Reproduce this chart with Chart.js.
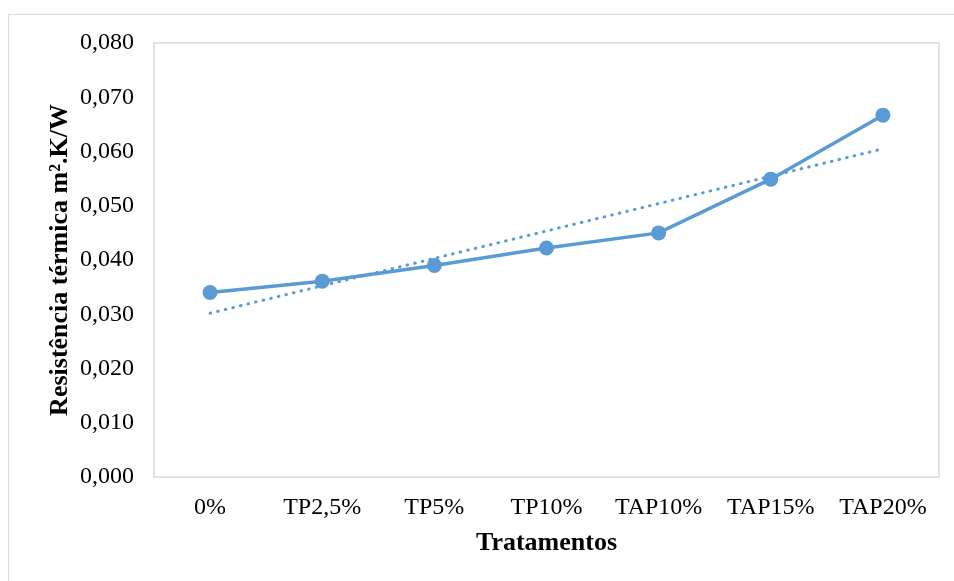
<!DOCTYPE html>
<html>
<head>
<meta charset="utf-8">
<script src="https://cdn.jsdelivr.net/npm/chart.js@4/dist/chart.umd.min.js"></script>
<style>
  html, body { margin: 0; padding: 0; background: #ffffff; }
  #wrap { position: relative; width: 954px; height: 581px; }
</style>
</head>
<body>
<div id="wrap"><canvas id="c" width="954" height="581"></canvas></div>
<script>
const categories = ['0%', 'TP2,5%', 'TP5%', 'TP10%', 'TAP10%', 'TAP15%', 'TAP20%'];
const resistencia = [0.0340, 0.0361, 0.0390, 0.0422, 0.0450, 0.0549, 0.0667];
// linear trendline read at its two ends (first and last category)
const tendencia = [0.0302, null, null, null, null, null, 0.0605];
const yTicks = ['0,000', '0,010', '0,020', '0,030', '0,040', '0,050', '0,060', '0,070', '0,080'];
const yTitle = 'Resistência térmica m².K/W';
const xTitle = 'Tratamentos';

const BLUE = '#5B9BD5';
const GREY = '#d9d9d9';
const SERIF = "'Liberation Serif', 'Times New Roman', serif";

const frames = {
  id: 'frames',
  beforeDraw(chart) {
    const ctx = chart.ctx;
    ctx.save();
    ctx.fillStyle = '#ffffff';
    ctx.fillRect(0, 0, chart.width, chart.height);
    ctx.strokeStyle = GREY;
    ctx.lineWidth = 1;
    ctx.strokeRect(8.5, 14.5, 980, 620);
    const a = chart.chartArea;
    ctx.lineWidth = 1.5;
    ctx.strokeRect(a.left, a.top, a.right - a.left, a.bottom - a.top);
    ctx.restore();
  }
};

new Chart(document.getElementById('c'), {
  type: 'line',
  data: {
    labels: categories,
    datasets: [
      {
        label: 'Linear',
        data: tendencia,
        spanGaps: true,
        borderColor: BLUE,
        borderWidth: 3,
        borderCapStyle: 'round',
        borderDash: [0.6, 7.2],
        pointRadius: 0,
        fill: false,
        order: 0
      },
      {
        label: 'Resistência',
        data: resistencia,
        borderColor: BLUE,
        backgroundColor: BLUE,
        borderWidth: 3.5,
        pointRadius: 7.5,
        pointBackgroundColor: BLUE,
        pointBorderColor: BLUE,
        pointBorderWidth: 0,
        tension: 0,
        fill: false,
        order: 1
      }
    ]
  },
  options: {
    responsive: false,
    animation: false,
    devicePixelRatio: 1,
    layout: { padding: { top: 43, right: 15, left: 45, bottom: 22 } },
    plugins: { legend: { display: false }, tooltip: { enabled: false } },
    scales: {
      x: {
        offset: true,
        grid: { display: false, drawTicks: false },
        border: { display: false },
        ticks: {
          color: '#000000',
          font: { family: SERIF, size: 24 },
          padding: 16,
          maxRotation: 0,
          autoSkip: false
        },
        title: {
          display: true,
          text: xTitle,
          color: '#000000',
          font: { family: SERIF, size: 26, weight: 'bold' },
          padding: 0
        },
        afterFit(s) { s.height = 581 - 22 - 477; }
      },
      y: {
        min: 0,
        max: 0.08,
        grid: { display: false, drawTicks: false },
        border: { display: false },
        ticks: {
          stepSize: 0.01,
          color: '#000000',
          font: { family: SERIF, size: 24 },
          padding: 20,
          callback: (v, i) => yTicks[i]
        },
        title: {
          display: true,
          text: yTitle,
          color: '#000000',
          font: { family: SERIF, size: 26, weight: 'bold' },
          padding: 0
        },
        afterFit(s) { s.width = 154 - 45; }
      }
    }
  },
  plugins: [frames]
});
</script>
</body>
</html>
